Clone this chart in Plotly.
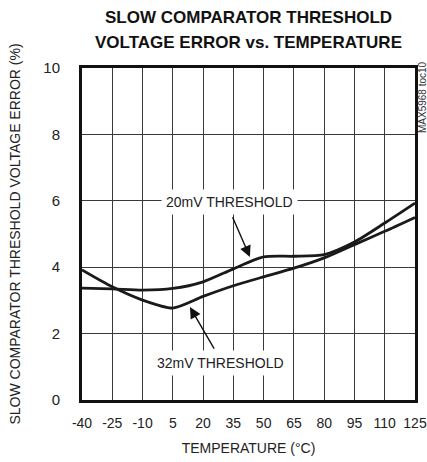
import plotly.graph_objects as go

temps = [-40, -25, -10, 5, 20, 35, 50, 65, 80, 95, 110, 125]
th32 = [3.92, 3.41, 3.01, 2.77, 3.12, 3.44, 3.71, 3.97, 4.28, 4.68, 5.08, 5.5]
th20 = [3.37, 3.35, 3.31, 3.36, 3.56, 3.95, 4.31, 4.33, 4.38, 4.76, 5.33, 5.93]
x_ticks = [-40, -25, -10, 5, 20, 35, 50, 65, 80, 95, 110, 125]
y_ticks = [0, 2, 4, 6, 8, 10]

FONT = "Liberation Sans, Arial, sans-serif"
LINE = "#1a1a1a"

fig = go.Figure()
for name, ys in [("32mV THRESHOLD", th32), ("20mV THRESHOLD", th20)]:
    fig.add_trace(go.Scatter(x=temps, y=ys, mode="lines", name=name,
                             line=dict(color=LINE, width=2.8, shape="spline", smoothing=0.7),
                             showlegend=False, hoverinfo="skip"))

fig.update_layout(
    width=427, height=462,
    margin=dict(l=82, r=12, t=68, b=62, autoexpand=False),
    paper_bgcolor="white", plot_bgcolor="white",
    font=dict(family=FONT, color="#222", size=14),
)
fig.update_xaxes(range=[-40, 125], tickvals=x_ticks, ticktext=[str(v) for v in x_ticks],
                 showgrid=True, gridcolor="#3a3a3a", gridwidth=1, automargin=False,
                 showline=True, linecolor="#111", linewidth=3, mirror=True,
                 zeroline=False, ticks="", tickfont=dict(size=14), ticklabelstandoff=8,
                 title=dict(text="TEMPERATURE (°C)", font=dict(size=14), standoff=14))
fig.update_yaxes(range=[0, 10], tickvals=y_ticks, automargin=False,
                 showgrid=True, gridcolor="#3a3a3a", gridwidth=1,
                 showline=True, linecolor="#111", linewidth=3, mirror=True,
                 zeroline=False, ticks="", tickfont=dict(size=15), ticklabelstandoff=16,
                 title=dict(text="SLOW COMPARATOR THRESHOLD VOLTAGE ERROR (%)",
                            font=dict(size=14), standoff=20))

# title (two lines)
fig.add_annotation(x=0.5, y=(400 - 18) / 332, xref="x domain", yref="y domain",
                   text="<b>SLOW COMPARATOR THRESHOLD</b>", showarrow=False,
                   yanchor="middle", font=dict(size=17, color="#111"))
fig.add_annotation(x=0.5, y=(400 - 43) / 332, xref="x domain", yref="y domain",
                   text="<b>VOLTAGE ERROR vs. TEMPERATURE</b>", showarrow=False,
                   yanchor="middle", font=dict(size=17, color="#111"))

# labels
fig.add_annotation(x=33.1, y=5.96, xref="x", yref="y", text="20mV THRESHOLD",
                   showarrow=False, bgcolor="white", borderpad=4,
                   font=dict(size=14, color="#222"))
fig.add_annotation(x=28.4, y=1.11, xref="x", yref="y", text="32mV THRESHOLD",
                   showarrow=False, bgcolor="white", borderpad=4,
                   font=dict(size=14, color="#222"))
# arrows
fig.add_annotation(x=43.2, y=4.31, ax=34.3, ay=5.55, xref="x", yref="y", axref="x", ayref="y",
                   text="", showarrow=True, arrowhead=2, arrowsize=1.6, arrowwidth=1.4,
                   arrowcolor="#111")
fig.add_annotation(x=13.5, y=2.8, ax=25.9, ay=1.5, xref="x", yref="y", axref="x", ayref="y",
                   text="", showarrow=True, arrowhead=2, arrowsize=1.6, arrowwidth=1.4,
                   arrowcolor="#111")
# part number
fig.add_annotation(x=(422 - 82) / 333, y=(400 - 97) / 332, xref="x domain", yref="y domain",
                   text="MAX5968 toc10", showarrow=False, textangle=-90,
                   xanchor="center", yanchor="middle",
                   font=dict(size=10, color="#333"))

fig.write_html("out.html")
